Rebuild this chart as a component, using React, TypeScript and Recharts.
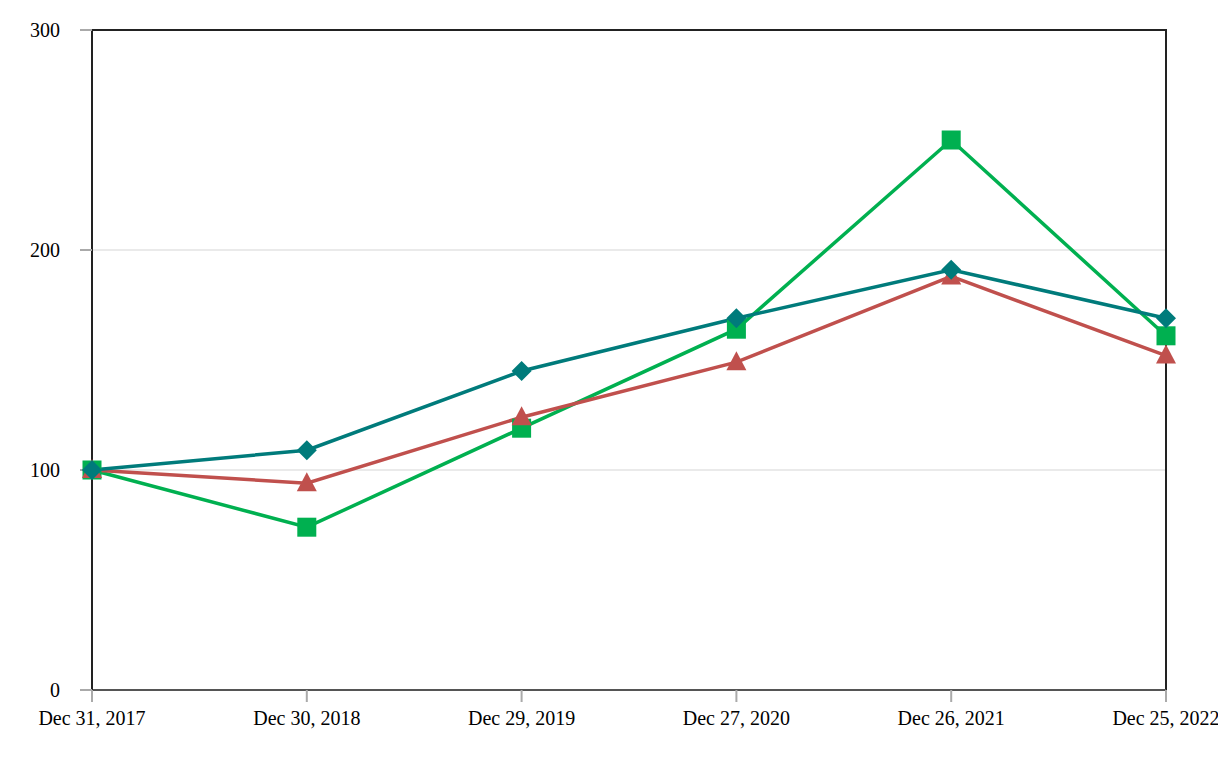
import React from "react";
import { LineChart, Line, XAxis, YAxis, CartesianGrid, ReferenceArea } from "recharts";

const categories = ["Dec 31, 2017", "Dec 30, 2018", "Dec 29, 2019", "Dec 27, 2020", "Dec 26, 2021", "Dec 25, 2022"];
const tealValues = [100, 109, 145, 169, 191, 169];
const redValues = [100, 94, 124, 149, 188, 152];
const greenValues = [100, 74, 119, 164, 250, 161];
const yTicks = [0, 100, 200, 300];

const data = categories.map((c, i) => ({ name: c, teal: tealValues[i], red: redValues[i], green: greenValues[i] }));

const TEAL = "#007B7B";
const RED = "#C0504D";
const GREEN = "#00B050";
const FONT = "'Liberation Serif', 'Times New Roman', Times, serif";

const Diamond = (props: any) => {
  const { cx, cy } = props;
  if (cx == null || cy == null) return null;
  const r = 10;
  return <path d={`M${cx},${cy - r} L${cx + r},${cy} L${cx},${cy + r} L${cx - r},${cy} Z`} fill={TEAL} />;
};
const Triangle = (props: any) => {
  const { cx, cy } = props;
  if (cx == null || cy == null) return null;
  const r = 10;
  return <path d={`M${cx},${cy - r - 1} L${cx + r},${cy + 8} L${cx - r},${cy + 8} Z`} fill={RED} />;
};
const Square = (props: any) => {
  const { cx, cy } = props;
  if (cx == null || cy == null) return null;
  const r = 9.5;
  return <rect x={cx - r} y={cy - r} width={2 * r} height={2 * r} fill={GREEN} />;
};

const tickStyle = { fontFamily: FONT, fontSize: 20, fill: "#000", style: { fontFamily: FONT } };

export default function App() {
  return (
    <div style={{ width: 1218, height: 740, fontFamily: FONT }}>
      <LineChart width={1218} height={740} data={data} style={{ fontFamily: FONT, overflow: "visible" }} margin={{ top: 22, right: 60, left: 24, bottom: 22 }}>
        <CartesianGrid vertical={false} stroke="#e3e3e3" strokeWidth={1.5} />
        <ReferenceArea x1={categories[0]} x2={categories[categories.length - 1]} y1={0} y2={300} fill="none" stroke="#222" strokeWidth={2} ifOverflow="visible" />
        <XAxis
          dataKey="name"
          tick={tickStyle}
          tickLine={{ stroke: "#aaa", strokeWidth: 2 }}
          axisLine={{ stroke: "#555", strokeWidth: 2 }}
          tickSize={12}
          tickMargin={9}
          interval={0}
          height={36}
        />
        <YAxis
          domain={[0, 300]}
          ticks={yTicks}
          tick={tickStyle}
          tickLine={{ stroke: "#aaa", strokeWidth: 2 }}
          axisLine={{ stroke: "#222", strokeWidth: 2 }}
          tickSize={12}
          tickMargin={20}
          width={60}
        />
        <Line dataKey="green" stroke={GREEN} strokeWidth={3.5} dot={<Square />} activeDot={false} isAnimationActive={false} />
        <Line dataKey="red" stroke={RED} strokeWidth={3.5} dot={<Triangle />} activeDot={false} isAnimationActive={false} />
        <Line dataKey="teal" stroke={TEAL} strokeWidth={3.5} dot={<Diamond />} activeDot={false} isAnimationActive={false} />
      </LineChart>
    </div>
  );
}
